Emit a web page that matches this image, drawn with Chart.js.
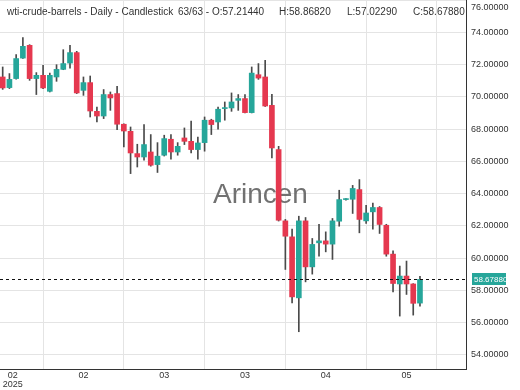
<!DOCTYPE html>
<html><head><meta charset="utf-8">
<script src="https://cdn.jsdelivr.net/npm/chart.js@4.4.1/dist/chart.umd.min.js"></script>
<style>html,body{margin:0;padding:0;background:#fff;}canvas{display:block;}</style>
</head><body>
<canvas id="c" width="520" height="390"></canvas>
<script>
// ---- data ----
const opens  = [71.23,70.57,71.13,72.40,73.19,71.13,71.33,70.34,71.23,71.70,72.09,72.74,70.40,70.88,69.10,68.81,70.14,70.20,68.30,67.86,66.48,66.27,66.58,65.80,66.38,67.37,66.58,67.45,67.24,66.73,67.16,68.55,68.44,69.27,69.31,69.78,69.89,69.02,71.37,71.23,69.47,66.73,62.31,61.32,57.54,62.31,59.46,60.95,61.07,60.87,62.29,63.63,63.65,64.25,62.31,62.87,63.14,62.04,60.25,58.40,58.89,58.40,57.2144];
const highs  = [71.85,71.44,72.61,73.67,73.23,71.50,71.95,71.47,71.99,72.92,73.19,72.82,71.23,71.29,69.37,70.45,70.30,70.65,68.32,68.13,67.06,68.28,67.66,67.16,67.62,67.66,67.16,68.07,68.50,67.51,68.75,68.61,69.37,69.68,70.24,70.14,70.14,71.85,72.06,72.26,70.15,66.93,62.40,61.80,62.60,62.52,61.22,62.09,61.63,62.46,64.21,63.70,64.51,64.87,63.28,63.42,63.20,62.10,60.45,59.51,59.82,58.42,58.8682];
const lows   = [70.46,70.51,71.10,72.38,71.02,70.14,70.50,70.30,70.96,71.68,71.78,70.20,70.09,68.75,68.44,68.65,69.16,67.97,66.89,65.24,65.65,66.07,65.70,65.31,66.33,66.13,66.38,67.04,66.52,66.13,66.63,67.66,67.99,68.55,69.10,69.16,69.00,69.00,71.08,69.40,66.21,62.30,59.30,57.23,55.44,58.53,59.01,60.12,60.39,59.92,61.98,63.60,62.77,61.57,62.15,61.80,61.53,60.12,57.91,56.41,57.75,56.47,57.0229];
const closes = [70.55,71.08,72.37,73.13,71.13,71.33,70.55,71.33,71.70,72.06,72.74,70.24,70.88,69.12,68.81,70.14,69.93,68.30,67.88,66.52,66.27,67.04,65.76,66.32,67.41,66.58,66.93,67.24,66.73,67.14,68.55,68.28,69.23,69.33,69.68,69.89,69.02,71.47,71.16,69.43,66.83,62.35,61.36,57.60,62.31,59.46,60.85,61.07,60.87,62.31,63.63,63.65,64.32,62.40,62.80,63.14,62.09,60.25,58.43,58.89,58.40,57.20,58.6788];
const xTickPositions = [0, 12, 24, 36, 48, 60];
const xTickLabels = [['  02', '2025'], '02', '03', '03', '04', '05'];
const yTickValues = [54, 56, 58, 60, 62, 64, 66, 68, 70, 72, 74, 76];
const symbolName = 'wti-crude-barrels';
const intervalName = 'Daily';
const chartKind = 'Candlestick';
const watermarkText = 'Arincen';

// ---- styles ----
const UP = '#26a69a', DOWN = '#e5384f', WICK = '#4a4a4a', GRID = '#e4e4e4', AXIS = '#333333';
const FONT = '"Liberation Sans", Arial, sans-serif';
const X_MIN = -0.4, X_MAX = 68.84, Y_MIN = 53.13, Y_MAX = 76.0;

const n = closes.length;
const idx = closes.map((_, i) => i);
const wickData = idx.map(i => ({x: i, y: [lows[i], highs[i]]}));
const bodyData = idx.map(i => ({x: i, y: [Math.min(opens[i], closes[i]), Math.max(opens[i], closes[i])]}));
const bodyColors = idx.map(i => closes[i] >= opens[i] ? UP : DOWN);
const last = n - 1;

const overlay = {
  id: 'overlay',
  beforeDatasetsDraw(chart) {
    const ctx = chart.ctx;
    ctx.save();
    ctx.font = '28px ' + FONT;
    ctx.fillStyle = 'rgba(105,105,105,0.95)';
    ctx.textBaseline = 'alphabetic';
    ctx.textAlign = 'left';
    ctx.fillText(watermarkText, 213, 203);
    ctx.restore();
  },
  afterDatasetsDraw(chart) {
    const ctx = chart.ctx, a = chart.chartArea;
    const y = Math.round(chart.scales.y.getPixelForValue(closes[last])) + 0.5;
    ctx.save();
    ctx.strokeStyle = '#111';
    ctx.lineWidth = 1;
    ctx.setLineDash([3, 3]);
    ctx.beginPath();
    ctx.moveTo(a.left, y);
    ctx.lineTo(a.right, y);
    ctx.stroke();
    ctx.restore();
  },
  afterDraw(chart) {
    const ctx = chart.ctx, a = chart.chartArea;
    const y = chart.scales.y.getPixelForValue(closes[last]);
    ctx.save();
    ctx.fillStyle = UP;
    ctx.fillRect(a.right + 6, Math.round(y) - 6, 34, 12);
    ctx.fillStyle = '#ffffff';
    ctx.font = '8px ' + FONT;
    ctx.textBaseline = 'middle';
    ctx.textAlign = 'left';
    ctx.fillText(closes[last].toFixed(5), a.right + 8, Math.round(y) + 0.5);
    ctx.fillStyle = AXIS;
    ctx.font = '10px ' + FONT;
    ctx.textBaseline = 'alphabetic';
    ctx.fillText(symbolName + ' - ' + intervalName + ' - ' + chartKind, 7, 15);
    ctx.fillText(n + '/' + n + ' - O:' + opens[last].toFixed(5), 178, 15);
    ctx.fillText('H:' + highs[last].toFixed(5), 279, 15);
    ctx.fillText('L:' + lows[last].toFixed(5), 347, 15);
    ctx.fillText('C:' + closes[last].toFixed(5), 413, 15);
    ctx.restore();
  }
};

new Chart(document.getElementById('c'), {
  type: 'bar',
  data: {
    datasets: [
      {data: wickData, backgroundColor: WICK, barThickness: 1, grouped: false, order: 2},
      {data: bodyData, backgroundColor: bodyColors, barThickness: 5, grouped: false, minBarLength: 1, order: 1}
    ]
  },
  options: {
    responsive: false,
    animation: false,
    devicePixelRatio: 1,
    layout: {padding: 0},
    plugins: {legend: {display: false}, tooltip: {enabled: false}, title: {display: false}},
    scales: {
      x: {
        type: 'linear', min: X_MIN, max: X_MAX, offset: false,
        grid: {color: GRID, drawTicks: false},
        border: {display: true, color: AXIS, width: 1},
        afterBuildTicks(scale) { scale.ticks = xTickPositions.concat([X_MAX]).map(v => ({value: v})); },
        afterFit(scale) { scale.height = 21; scale.paddingLeft = 0; scale.paddingRight = 0; },
        ticks: {
          autoSkip: false, maxRotation: 0, minRotation: 0, align: 'inner', padding: 2,
          color: AXIS, font: {family: FONT, size: 9, lineHeight: 1.0},
          callback: (v, i) => i < xTickLabels.length ? xTickLabels[i] : ''
        }
      },
      y: {
        position: 'right', min: Y_MIN, max: Y_MAX,
        grid: {color: GRID, drawTicks: false},
        border: {display: true, color: AXIS, width: 1},
        afterBuildTicks(scale) { scale.ticks = yTickValues.map(v => ({value: v})); },
        afterFit(scale) { scale.width = 54; scale.paddingTop = 0; scale.paddingBottom = 0; },
        ticks: {
          padding: 5, color: AXIS, font: {family: FONT, size: 9, lineHeight: 1.6},
          callback: (v) => v >= Y_MAX - 0.001 ? ['', v.toFixed(5)] : v.toFixed(5)
        }
      }
    }
  },
  plugins: [overlay]
});
</script>
</body></html>
